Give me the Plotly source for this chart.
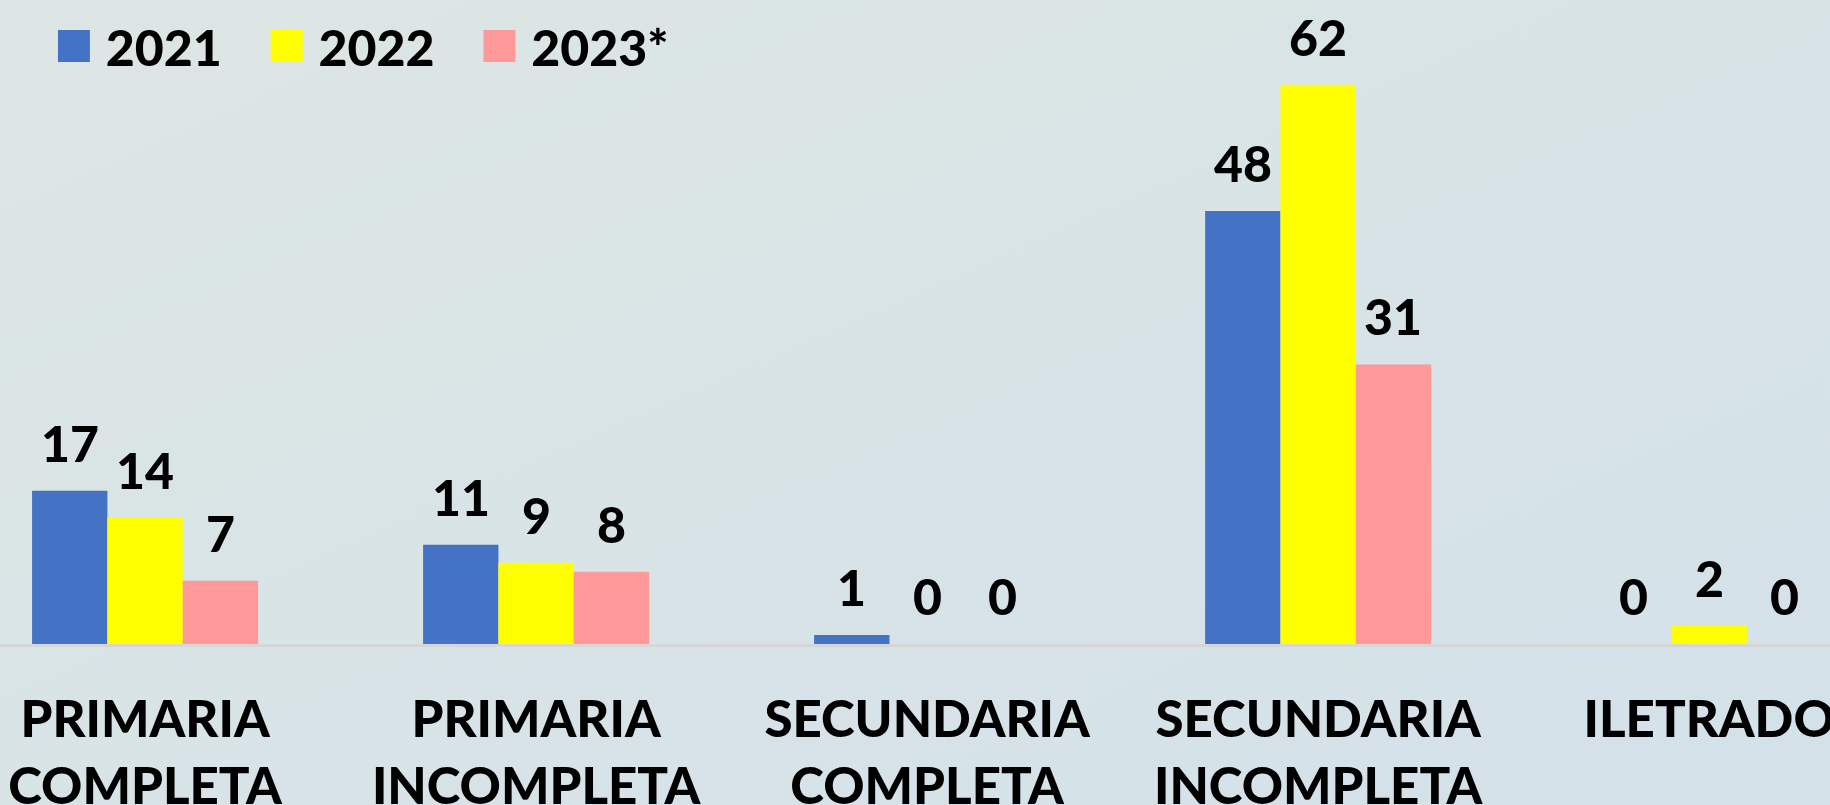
import base64
import plotly.graph_objects as go

# Chart data
categories = ["PRIMARIA<br>COMPLETA", "PRIMARIA<br>INCOMPLETA", "SECUNDARIA<br>COMPLETA",
              "SECUNDARIA<br>INCOMPLETA", "ILETRADO"]
years = ["2021", "2022", "2023*"]
values_2021 = [17, 11, 1, 48, 0]
values_2022 = [14, 9, 0, 62, 2]
values_2023 = [7, 8, 0, 31, 0]
series = [values_2021, values_2022, values_2023]
colors = ["#4472C4", "#FFFF00", "#FF9999"]

FONT = "Lato"
WEIGHT = 900
bargap = 0.422
bar_w = (1 - bargap) / len(years)

# soft diagonal background gradient
svg = ('<svg xmlns="http://www.w3.org/2000/svg" width="1830" height="805">'
       '<defs><linearGradient id="g" x1="0" y1="0" x2="1" y2="1">'
       '<stop offset="0" stop-color="#dde6e4"/><stop offset="1" stop-color="#d3e1e9"/>'
       '</linearGradient></defs><rect width="1830" height="805" fill="url(#g)"/></svg>')
bg_uri = "data:image/svg+xml;base64," + base64.b64encode(svg.encode()).decode()

fig = go.Figure()

for name, vals, col in zip(years, series, colors):
    fig.add_trace(go.Bar(
        x=categories, y=vals, name=name,
        marker=dict(color=col, line=dict(width=0)),
        showlegend=False,
    ))

# legend entries with big square swatches (plotly caps legend symbol size)
for name, col in zip(years, colors):
    fig.add_trace(go.Scatter(
        x=[None], y=[None], mode="markers",
        marker=dict(size=1, color="rgba(0,0,0,0)"),
        name=f'<span style="color:{col};font-size:66px">■</span>&nbsp;{name}',
        showlegend=True,
    ))

# value labels above each bar
annotations = []
for j, vals in enumerate(series):
    for i, v in enumerate(vals):
        annotations.append(dict(
            x=i + (j - 1) * bar_w, y=v, xref="x", yref="y",
            text=str(v), showarrow=False, yanchor="bottom", yshift=16,
            font=dict(family=FONT, size=50, color="black", weight=WEIGHT),
        ))

fig.update_layout(
    width=1830, height=805,
    barmode="group", bargap=bargap, bargroupgap=0,
    paper_bgcolor="#d9e4e6", plot_bgcolor="rgba(0,0,0,0)",
    margin=dict(l=0, r=0, t=0, b=161),
    font=dict(family=FONT, color="black", weight=WEIGHT),
    annotations=annotations,
    images=[dict(source=bg_uri, xref="paper", yref="paper", x=0, y=1,
                 sizex=1, sizey=805 / 644, xanchor="left", yanchor="top",
                 sizing="stretch", layer="below")],
    legend=dict(
        orientation="h", x=0.0077, y=0.989, xanchor="left", yanchor="top",
        font=dict(family=FONT, size=50, color="black", weight=WEIGHT),
        bgcolor="rgba(0,0,0,0)", itemwidth=30,
    ),
)

fig.update_xaxes(
    range=[-0.371, 4.309], showgrid=False, zeroline=False, automargin=False,
    showline=True, linecolor="#d6d6d6", linewidth=3,
    tickfont=dict(family=FONT, size=51, color="black", weight=WEIGHT),
    ticks="", ticklabelstandoff=29,
)
fig.update_yaxes(range=[0, 71.4], visible=False, automargin=False)

fig.write_html("out.html", config={"displayModeBar": False},
               post_script="document.body.style.margin='0';")
